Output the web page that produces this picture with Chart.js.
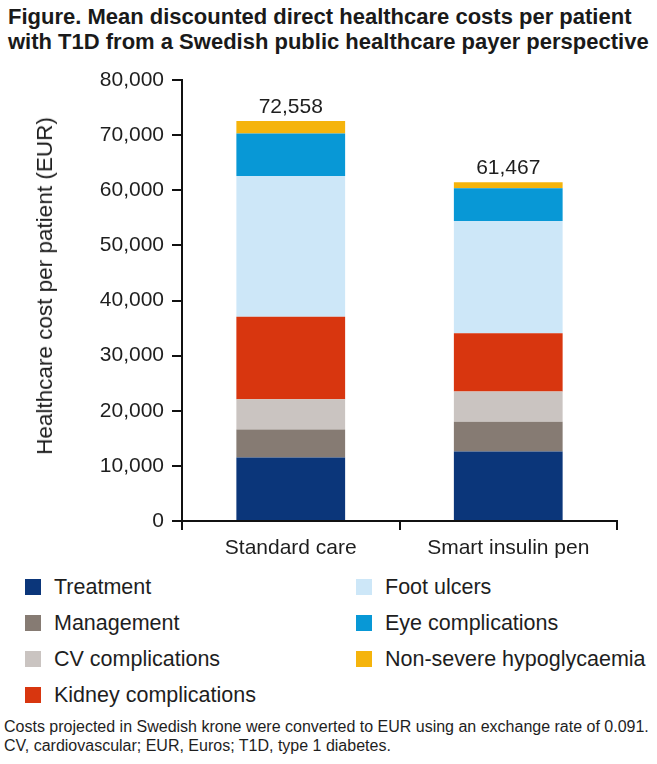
<!DOCTYPE html>
<html>
<head>
<meta charset="utf-8">
<script src="https://cdn.jsdelivr.net/npm/chart.js@4.4.1/dist/chart.umd.min.js"></script>
<style>
  body { margin: 0; background: #fff; font-family: "Liberation Sans", Arial, sans-serif; color: #1e1e1e; }
  #wrap { position: relative; width: 657px; height: 764px; overflow: hidden; }
  #title { position: absolute; left: 8px; top: 4px; font-weight: bold; font-size: 22px; line-height: 25px; color: #1a1a1a; white-space: nowrap; }
  #chart { position: absolute; left: 0; top: 0; }
  #ytitle { position: absolute; left: 45px; top: 286px; transform: translate(-50%, -50%) rotate(-90deg); font-size: 22.5px; white-space: nowrap; }
  .lg { position: absolute; font-size: 21.5px; white-space: nowrap; line-height: 24px; }
  .lg i { position: absolute; width: 16px; height: 16px; left: -29px; top: 4px; }
  #foot { position: absolute; left: 4px; top: 717px; font-size: 16px; line-height: 19px; white-space: nowrap; }
</style>
</head>
<body>
<div id="wrap">
  <div id="title">Figure. Mean discounted direct healthcare costs per patient<br>with T1D from a Swedish public healthcare payer perspective</div>
  <canvas id="chart" width="657" height="570"></canvas>
  <div id="ytitle">Healthcare cost per patient (EUR)</div>
  <div id="legend"></div>
  <div id="foot">Costs projected in Swedish krone were converted to EUR using an exchange rate of 0.091.<br>CV, cardiovascular; EUR, Euros; T1D, type 1 diabetes.</div>
</div>
<script>
const categories = ['Standard care', 'Smart insulin pen'];

const seriesNames = ['Treatment', 'Management', 'CV complications', 'Kidney complications',
  'Foot ulcers', 'Eye complications', 'Non-severe hypoglycaemia'];
const seriesColors = ['#0b367a', '#867b73', '#cac4c1', '#d8360f', '#cde7f8', '#0898d6', '#f5b40c'];

const treatment = [11500, 12600];
const management = [5100, 5400];
const cvComplications = [5500, 5500];
const kidneyComplications = [14960, 10550];
const footUlcers = [25540, 20350];
const eyeComplications = [7700, 5950];
const hypoglycaemia = [2258, 1117];

const yTicks = [0, 10000, 20000, 30000, 40000, 50000, 60000, 70000, 80000];

const seriesValues = [treatment, management, cvComplications, kidneyComplications,
  footUlcers, eyeComplications, hypoglycaemia];

// totals above the bars: 72,558 and 61,467
const totals = categories.map((c, i) => seriesValues.reduce((s, arr) => s + arr[i], 0));

const FONT = '"Liberation Sans", Arial, sans-serif';
const INK = '#1e1e1e';

// legend (two columns, four rows on the left)
const legendEl = document.getElementById('legend');
const rowsY = [587, 623, 659, 695];
seriesNames.forEach((name, i) => {
  const col = i < 4 ? 0 : 1;
  const row = i < 4 ? i : i - 4;
  const d = document.createElement('div');
  d.className = 'lg';
  d.style.left = (col ? 385 : 54) + 'px';
  d.style.top = (rowsY[row] - 12) + 'px';
  d.innerHTML = `<i style="background:${seriesColors[i]}"></i>${name}`;
  legendEl.appendChild(d);
});

const totalLabels = {
  id: 'totalLabels',
  afterDatasetsDraw(chart) {
    const ctx = chart.ctx;
    const top = chart.getDatasetMeta(chart.data.datasets.length - 1);
    ctx.save();
    ctx.font = `21px ${FONT}`;
    ctx.fillStyle = INK;
    ctx.textAlign = 'center';
    ctx.textBaseline = 'alphabetic';
    totals.forEach((t, i) => {
      const bar = top.data[i];
      ctx.fillText(t.toLocaleString('en-US'), bar.x, bar.y - 8);
    });
    ctx.restore();
  }
};

new Chart(document.getElementById('chart'), {
  type: 'bar',
  data: {
    labels: categories,
    datasets: seriesNames.map((name, i) => ({
      label: name,
      data: seriesValues[i],
      backgroundColor: seriesColors[i],
      borderWidth: 0,
      categoryPercentage: 1,
      barPercentage: 0.5
    }))
  },
  options: {
    responsive: false,
    animation: false,
    layout: { padding: { top: 80, right: 40, left: 0, bottom: 0 } },
    plugins: {
      legend: { display: false },
      tooltip: { enabled: false }
    },
    scales: {
      x: {
        stacked: true,
        grid: { display: true, drawOnChartArea: false, offset: true, tickLength: 9, color: '#111', lineWidth: 2 },
        border: { display: true, color: '#111', width: 2 },
        ticks: { color: INK, font: { family: FONT, size: 21 }, padding: 6 },
        afterFit(scale) { scale.height = 49; }
      },
      y: {
        stacked: true,
        min: 0,
        max: 80000,
        afterBuildTicks(scale) { scale.ticks = yTicks.map((v) => ({ value: v })); },
        grid: { display: true, drawOnChartArea: false, tickLength: 10, color: '#111', lineWidth: 2 },
        border: { display: true, color: '#111', width: 2 },
        ticks: {
          color: INK,
          font: { family: FONT, size: 21 },
          padding: 8,
          callback: (v) => v.toLocaleString('en-US')
        },
        afterFit(scale) { scale.width = 182; }
      }
    }
  },
  plugins: [totalLabels]
});
</script>
</body>
</html>
